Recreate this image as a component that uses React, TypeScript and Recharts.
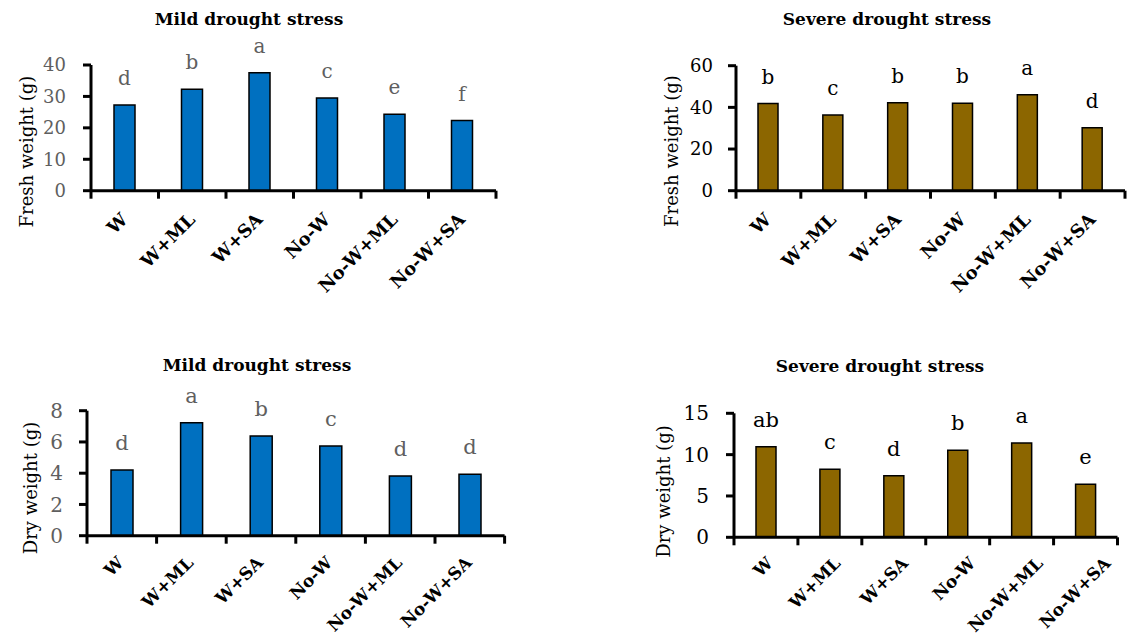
import React from 'react';
import { BarChart, Bar, XAxis, YAxis, LabelList } from 'recharts';

const categories = ['W', 'W+ML', 'W+SA', 'No-W', 'No-W+ML', 'No-W+SA'];

const mildFresh = [27.3, 32.3, 37.5, 29.5, 24.3, 22.3];
const mildFreshLetters = ['d', 'b', 'a', 'c', 'e', 'f'];
const mildFreshTicks = [0, 10, 20, 30, 40];

const severeFresh = [41.8, 36.3, 42.2, 42.0, 46.1, 30.2];
const severeFreshLetters = ['b', 'c', 'b', 'b', 'a', 'd'];
const severeFreshTicks = [0, 20, 40, 60];

const mildDry = [4.2, 7.23, 6.38, 5.74, 3.82, 3.93];
const mildDryLetters = ['d', 'a', 'b', 'c', 'd', 'd'];
const mildDryTicks = [0, 2, 4, 6, 8];

const severeDry = [10.96, 8.22, 7.45, 10.52, 11.4, 6.41];
const severeDryLetters = ['ab', 'c', 'd', 'b', 'a', 'e'];
const severeDryTicks = [0, 5, 10, 15];

const W = 1146;
const H = 639;
const FONT = '"DejaVu Serif", serif';
const GREY = '#5f5f5f';
const BLUE = '#0070C0';
const BROWN = '#8C6600';

const build = (vals: number[], letters: string[]) =>
  categories.map((name, i) => ({ name, value: vals[i], letter: letters[i] }));

type Box = { l: number; t: number; r: number; b: number };

function makeTick(band: number, n: number, fontSize: number, base: number, step: number, dy: number) {
  return (props: any) => {
    const { x, y, payload, index } = props;
    const tx = x + base + step * index;
    const ty = y + dy;
    return (
      <g>
        <line x1={x - band / 2} x2={x - band / 2} y1={y} y2={y + 8} stroke="#000" strokeWidth={3} />
        {index === n - 1 && (
          <line x1={x + band / 2} x2={x + band / 2} y1={y} y2={y + 8} stroke="#000" strokeWidth={3} />
        )}
        <text
          x={tx}
          y={ty}
          transform={`rotate(-45 ${tx} ${ty})`}
          textAnchor="end"
          fontFamily={FONT}
          fontWeight="bold"
          fontSize={fontSize}
          fill="#000"
        >
          {payload.value}
        </text>
      </g>
    );
  };
}

function Panel(props: {
  box: Box;
  data: any[];
  ticks: number[];
  fill: string;
  textColor: string;
  tickFont: number;
  letterFont: number;
  barSize: number;
  tickMargin: number;
  labelFont: number;
  labelBase: number;
  labelStep: number;
  labelDy: number;
}) {
  const {
    box, data, ticks, fill, textColor, tickFont, letterFont, barSize, tickMargin,
    labelFont, labelBase, labelStep, labelDy,
  } = props;
  const yw = 60;
  const xh = 60;
  const band = (box.r - box.l) / data.length;
  return (
    <div style={{ position: 'absolute', left: 0, top: 0 }}>
      <BarChart
        width={W}
        height={H}
        data={data}
        margin={{ top: box.t, left: box.l - yw, right: W - box.r, bottom: H - box.b - xh }}
        barCategoryGap={0}
      >
        <XAxis
          dataKey="name"
          height={xh}
          interval={0}
          tickLine={false}
          tickSize={0}
          tickMargin={0}
          axisLine={{ stroke: '#000', strokeWidth: 3 }}
          tick={makeTick(band, data.length, labelFont, labelBase, labelStep, labelDy)}
        />
        <YAxis
          type="number"
          width={yw}
          domain={[ticks[0], ticks[ticks.length - 1]]}
          ticks={ticks}
          interval={0}
          tickSize={8}
          tickMargin={tickMargin}
          axisLine={{ stroke: '#000', strokeWidth: 3 }}
          tickLine={{ stroke: '#000', strokeWidth: 3 }}
          tick={{ fill: textColor, fontSize: tickFont, fontFamily: FONT }}
        />
        <Bar dataKey="value" fill={fill} stroke="#000" strokeWidth={1.5} barSize={barSize} isAnimationActive={false}>
          <LabelList
            dataKey="letter"
            position="top"
            offset={20}
            fill={textColor}
            fontSize={letterFont}
            fontFamily={FONT}
          />
        </Bar>
      </BarChart>
    </div>
  );
}

export default function App() {
  return (
    <div style={{ position: 'absolute', left: 0, top: 0, width: W, height: H, background: '#fff' }}>
      <Panel
        box={{ l: 91, t: 65, r: 496, b: 190.7 }}
        data={build(mildFresh, mildFreshLetters)}
        ticks={mildFreshTicks}
        fill={BLUE}
        textColor={GREY}
        tickFont={18}
        letterFont={20}
        barSize={21}
        tickMargin={17}
        labelFont={18}
        labelBase={4}
        labelStep={0}
        labelDy={30}
      />
      <Panel
        box={{ l: 736, t: 65.7, r: 1125, b: 190.7 }}
        data={build(severeFresh, severeFreshLetters)}
        ticks={severeFreshTicks}
        fill={BROWN}
        textColor="#000"
        tickFont={18}
        letterFont={20}
        barSize={20}
        tickMargin={15}
        labelFont={18}
        labelBase={4}
        labelStep={0}
        labelDy={30}
      />
      <Panel
        box={{ l: 87, t: 410.7, r: 504.6, b: 535.7 }}
        data={build(mildDry, mildDryLetters)}
        ticks={mildDryTicks}
        fill={BLUE}
        textColor={GREY}
        tickFont={20}
        letterFont={21}
        barSize={22}
        tickMargin={16}
        labelFont={17}
        labelBase={3}
        labelStep={0}
        labelDy={28}
      />
      <Panel
        box={{ l: 734, t: 413.3, r: 1117.5, b: 537.3 }}
        data={build(severeDry, severeDryLetters)}
        ticks={severeDryTicks}
        fill={BROWN}
        textColor="#000"
        tickFont={20}
        letterFont={21}
        barSize={20}
        tickMargin={17}
        labelFont={17}
        labelBase={8}
        labelStep={3.6}
        labelDy={27}
      />
      <svg width={W} height={H} style={{ position: 'absolute', left: 0, top: 0, pointerEvents: 'none' }}>
        <g fontFamily={FONT} fill="#000">
          <text x={249} y={25} textAnchor="middle" fontWeight="bold" fontSize={17}>Mild drought stress</text>
          <text x={887} y={25} textAnchor="middle" fontWeight="bold" fontSize={17}>Severe drought stress</text>
          <text x={257} y={371} textAnchor="middle" fontWeight="bold" fontSize={17}>Mild drought stress</text>
          <text x={880} y={372} textAnchor="middle" fontWeight="bold" fontSize={17}>Severe drought stress</text>
          <text x={33} y={151.5} transform="rotate(-90 33 151.5)" textAnchor="middle" fontSize={18}>Fresh weight (g)</text>
          <text x={678} y={151} transform="rotate(-90 678 151)" textAnchor="middle" fontSize={18}>Fresh weight (g)</text>
          <text x={37} y={488} transform="rotate(-90 37 488)" textAnchor="middle" fontSize={18}>Dry weight (g)</text>
          <text x={670} y={491.5} transform="rotate(-90 670 491.5)" textAnchor="middle" fontSize={18}>Dry weight (g)</text>
        </g>
      </svg>
    </div>
  );
}
